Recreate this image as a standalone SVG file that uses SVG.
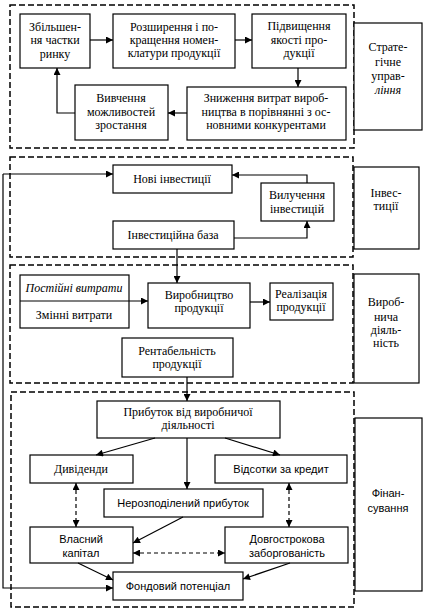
<svg xmlns="http://www.w3.org/2000/svg" width="427" height="610" viewBox="0 0 427 610">
<defs>
<marker id="ah" viewBox="0 0 10 10" refX="10" refY="5" markerWidth="9" markerHeight="7" markerUnits="userSpaceOnUse" orient="auto">
<path d="M0,0 L10,5 L0,10 z" fill="#000"/>
</marker>
<marker id="ahs" viewBox="0 0 10 10" refX="0" refY="5" markerWidth="9" markerHeight="7" markerUnits="userSpaceOnUse" orient="auto">
<path d="M10,0 L0,5 L10,10 z" fill="#000"/>
</marker>
</defs>
<style>
.sec{fill:none;stroke:#000;stroke-width:1.5;stroke-dasharray:6,3}
.box rect,.lab rect{fill:#fff;stroke:#000;stroke-width:1.2}
text{font-family:"Liberation Serif","DejaVu Serif",serif;font-size:12px;fill:#000;text-anchor:middle}
.sans{font-family:"Liberation Sans","DejaVu Sans",sans-serif;font-size:11px}
.it{font-style:italic}
.c line,.c polyline{fill:none;stroke:#000;stroke-width:1.2}
.c .d{stroke-dasharray:4,3}
</style>
<rect width="427" height="610" fill="#fff"/>
<!-- sections -->
<g id="sections">
<rect class="sec" x="10" y="5" width="344" height="143"/>
<rect class="sec" x="10" y="157" width="343" height="100"/>
<rect class="sec" x="10" y="265" width="343" height="118"/>
<rect class="sec" x="11" y="392" width="343" height="215"/>
</g>
<!-- labels -->
<g id="lab-strat" class="lab"><rect x="354" y="23" width="68" height="107"/>
<text x="388" y="51">Страте-</text><text x="388" y="66">гічне</text><text x="388" y="80">управ-</text><text x="388" y="94" class="it">ління</text></g>
<g id="lab-inv" class="lab"><rect x="354" y="167" width="65" height="82"/>
<text x="386" y="197">Інвес-</text><text x="386" y="210">тиції</text></g>
<g id="lab-vyr" class="lab"><rect x="354" y="274" width="65" height="109"/>
<text x="386" y="306">Вироб-</text><text x="386" y="321">нича</text><text x="386" y="334">діяль-</text><text x="386" y="347">ність</text></g>
<g id="lab-fin" class="lab"><rect x="355" y="418" width="67" height="173"/>
<text x="388" y="497" class="sans">Фінан-</text><text x="388" y="512" class="sans">сування</text></g>
<!-- section 1 -->
<g id="n-zbil" class="box"><rect x="20" y="14" width="70" height="54"/>
<text x="55" y="31">Збільшен-</text><text x="55" y="44">ня частки</text><text x="55" y="58">ринку</text></g>
<g id="n-rozsh" class="box"><rect x="113" y="14" width="122" height="54"/>
<text x="174" y="31">Розширення і по-</text><text x="174" y="44">кращення номен-</text><text x="174" y="57">клатури продукції</text></g>
<g id="n-pidv" class="box"><rect x="252" y="14" width="94" height="54"/>
<text x="299" y="30">Підвищення</text><text x="299" y="44">якості про-</text><text x="299" y="57">дукції</text></g>
<g id="n-znyzh" class="box"><rect x="187" y="87" width="159" height="53"/>
<text x="266" y="102">Зниження витрат вироб-</text><text x="266" y="116">ництва в порівнянні з ос-</text><text x="266" y="129">новними конкурентами</text></g>
<g id="n-vyvch" class="box"><rect x="75" y="85" width="93" height="55"/>
<text x="121" y="102">Вивчення</text><text x="121" y="116">можливостей</text><text x="121" y="129">зростання</text></g>
<!-- section 2 -->
<g id="n-novi" class="box"><rect x="113" y="165" width="119" height="28"/>
<text x="172" y="183">Нові інвестиції</text></g>
<g id="n-vyluch" class="box"><rect x="261" y="183" width="73" height="38"/>
<text x="297" y="199">Вилучення</text><text x="297" y="213">інвестицій</text></g>
<g id="n-baza" class="box"><rect x="113" y="221" width="121" height="28"/>
<text x="173" y="239">Інвестиційна база</text></g>
<!-- section 3 -->
<g id="n-vytraty" class="box"><rect x="20" y="275" width="109" height="53"/>
<text x="74" y="292" class="it">Постійні витрати</text><text x="74" y="319">Змінні витрати</text></g>
<g id="n-vyrobn" class="box"><rect x="148" y="283" width="102" height="45"/>
<text x="199" y="299">Виробництво</text><text x="199" y="312">продукції</text></g>
<g id="n-real" class="box"><rect x="270" y="283" width="63" height="37"/>
<text x="301" y="298">Реалізація</text><text x="301" y="311">продукції</text></g>
<g id="n-rent" class="box"><rect x="122" y="338" width="111" height="39"/>
<text x="177" y="355">Рентабельність</text><text x="177" y="368">продукції</text></g>
<!-- section 4 -->
<g id="n-prib" class="box"><rect x="97" y="401" width="183" height="37"/>
<text x="188" y="416">Прибуток від виробничої</text><text x="188" y="429">діяльності</text></g>
<g id="n-dyv" class="box"><rect x="30" y="455" width="103" height="28"/>
<text x="81" y="473">Дивіденди</text></g>
<g id="n-vids" class="box"><rect x="215" y="455" width="132" height="28"/>
<text x="281" y="473" class="sans">Відсотки за кредит</text></g>
<g id="n-nerozp" class="box"><rect x="104" y="489" width="159" height="28"/>
<text x="183" y="507" class="sans">Нерозподілений прибуток</text></g>
<g id="n-vlas" class="box"><rect x="30" y="527" width="103" height="36"/>
<text x="81" y="543" class="sans">Власний</text><text x="81" y="557" class="sans">капітал</text></g>
<g id="n-dovg" class="box"><rect x="225" y="527" width="123" height="36"/>
<text x="287" y="543" class="sans">Довгострокова</text><text x="287" y="557" class="sans">заборгованість</text></g>
<g id="n-fond" class="box"><rect x="113" y="572" width="130" height="28"/>
<text x="178" y="590" class="sans">Фондовий потенціал</text></g>
<!-- connectors -->
<g id="connectors" class="c">
<line x1="90" y1="40" x2="113" y2="40" marker-end="url(#ah)"/>
<line x1="235" y1="40" x2="252" y2="40" marker-end="url(#ah)"/>
<line x1="298" y1="68" x2="298" y2="87" marker-end="url(#ah)"/>
<line x1="187" y1="113" x2="168" y2="113" marker-end="url(#ah)"/>
<polyline points="75,113 57,113 57,68" marker-end="url(#ah)"/>
<polyline points="234,238 307,238 307,221" marker-end="url(#ah)"/>
<polyline points="307,183 307,175 232,175" marker-end="url(#ah)"/>
<polyline points="113,588 3,588 3,174" marker-start="url(#ahs)"/>
<line x1="3" y1="174" x2="113" y2="174" marker-end="url(#ah)"/>
<line x1="177" y1="249" x2="177" y2="283" marker-end="url(#ah)"/>
<line x1="20" y1="301" x2="148" y2="301" marker-end="url(#ah)"/>
<line x1="250" y1="302" x2="270" y2="302" marker-end="url(#ah)"/>
<line x1="187" y1="377" x2="187" y2="401" marker-end="url(#ah)"/>
<line x1="155" y1="438" x2="96" y2="455" marker-end="url(#ah)"/>
<line x1="225" y1="438" x2="280" y2="455" marker-end="url(#ah)"/>
<line x1="187" y1="438" x2="187" y2="489" marker-end="url(#ah)"/>
<line class="d" x1="76" y1="483" x2="76" y2="527" marker-start="url(#ahs)" marker-end="url(#ah)"/>
<line class="d" x1="289" y1="483" x2="289" y2="527" marker-start="url(#ahs)" marker-end="url(#ah)"/>
<line x1="183" y1="517" x2="133" y2="543" marker-end="url(#ah)"/>
<line class="d" x1="133" y1="553" x2="225" y2="553" stroke-width="1.6" marker-start="url(#ahs)" marker-end="url(#ah)"/>
<line x1="78" y1="563" x2="113" y2="580" marker-end="url(#ah)"/>
<line x1="290" y1="563" x2="243" y2="579" marker-end="url(#ah)"/>
</g>
</svg>
